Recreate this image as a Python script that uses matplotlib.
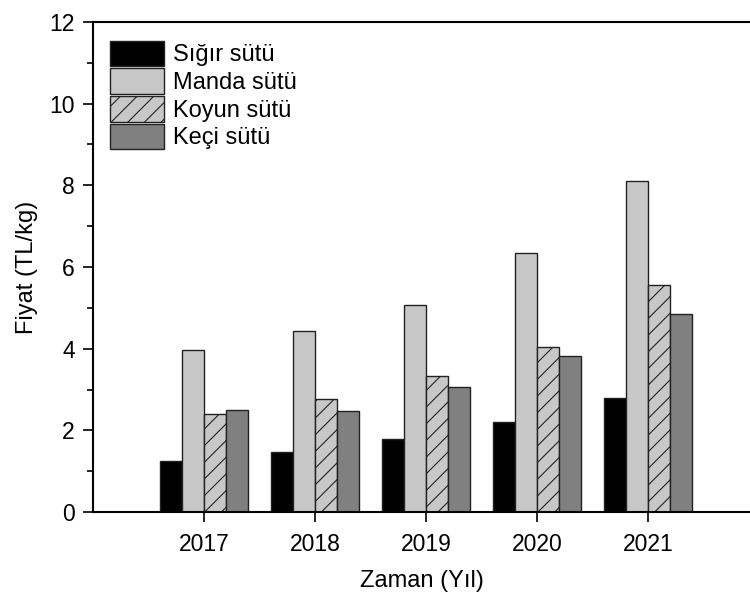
import matplotlib
matplotlib.use("Agg")
import matplotlib.pyplot as plt
import numpy as np
from matplotlib.ticker import MultipleLocator

years = [2017, 2018, 2019, 2020, 2021]
series_names = ["Sığır sütü", "Manda sütü", "Koyun sütü", "Keçi sütü"]
sigir = [1.25, 1.47, 1.78, 2.21, 2.78]
manda = [3.96, 4.43, 5.07, 6.34, 8.11]
koyun = [2.41, 2.76, 3.33, 4.03, 5.57]
keci = [2.50, 2.48, 3.05, 3.82, 4.84]

plt.rcParams["font.family"] = ["Liberation Sans", "DejaVu Sans"]
plt.rcParams["hatch.color"] = "#3a3a3a"
plt.rcParams["hatch.linewidth"] = 0.8

styles = [
    dict(color="#000000", hatch=None),
    dict(color="#c8c8c8", hatch=None),
    dict(color="#c8c8c8", hatch="//"),
    dict(color="#808080", hatch=None),
]

fig = plt.figure(figsize=(7.5, 5.94), dpi=100)
ax = fig.add_axes([0.124, 0.138, 0.876, 0.825])

x = np.array(years, dtype=float)
width = 0.2
for i, (name, values, st) in enumerate(zip(series_names, [sigir, manda, koyun, keci], styles)):
    offsets = x - 0.4 + width / 2 + i * width
    ax.bar(offsets, values, width=width, color=st["color"], hatch=st["hatch"],
           edgecolor="#222222", linewidth=1.0, label=name)

ax.set_xlim(2016.0, 2021.92)
ax.set_ylim(0, 12)
ax.set_xticks(years)
ax.set_xticklabels([str(y) for y in years])
ax.yaxis.set_major_locator(MultipleLocator(2))
ax.yaxis.set_minor_locator(MultipleLocator(1))
ax.tick_params(axis="both", which="major", direction="out", length=7, width=1.2, labelsize=16.5)
ax.tick_params(axis="y", which="minor", direction="out", length=4, width=1.2)
ax.tick_params(axis="x", pad=8)
ax.tick_params(axis="y", pad=6)

ax.spines["right"].set_visible(False)
for s in ("left", "bottom", "top"):
    ax.spines[s].set_linewidth(1.5)

ax.set_xlabel("Zaman (Yıl)", fontsize=17, labelpad=10)
ax.set_ylabel("Fiyat (TL/kg)", fontsize=17, labelpad=8)

ax.legend(loc="upper left", bbox_to_anchor=(0.026, 0.962), frameon=False,
          fontsize=17, handlelength=2.3, handleheight=1.3, labelspacing=0.08,
          handletextpad=0.35, borderpad=0, borderaxespad=0)

fig.savefig("out.png", dpi=100)
